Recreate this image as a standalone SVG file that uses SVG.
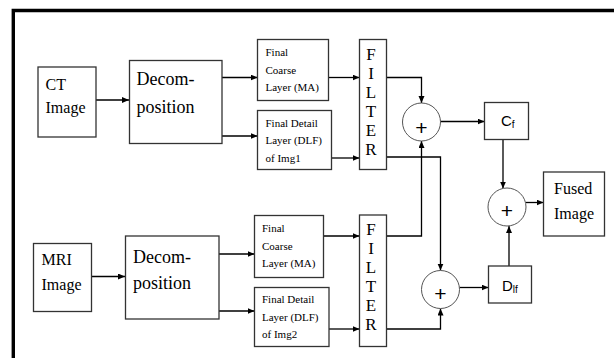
<svg xmlns="http://www.w3.org/2000/svg" width="614" height="358" viewBox="0 0 614 358">
<defs>
<marker id="arr" markerUnits="userSpaceOnUse" markerWidth="8" markerHeight="7" refX="7" refY="3" orient="auto">
<path d="M0,0 L7,3 L0,6 z" fill="#000"/>
</marker>
<style>
.box{fill:#fff;stroke:#333;stroke-width:1.3}
.sum{fill:#fff;stroke:#555;stroke-width:1}
.con{fill:none;stroke:#000;stroke-width:1.3;marker-end:url(#arr)}
.t16{font-family:"Liberation Serif",serif;font-size:16px;fill:#000}
.t18{font-family:"Liberation Serif",serif;font-size:18px;fill:#000}
.t11{font-family:"Liberation Serif",serif;font-size:11px;fill:#000}
.flt{font-family:"Liberation Serif",serif;font-size:17px;fill:#000;text-anchor:middle}
.plus{font-family:"Liberation Sans",sans-serif;font-size:21px;fill:#000;text-anchor:middle}
.sans{font-family:"Liberation Sans",sans-serif;fill:#000}
</style>
</defs>
<rect width="614" height="358" fill="#fff"/>
<path d="M13.3,360 V10.5 H616" fill="none" stroke="#000" stroke-width="3.4"/>

<g id="connectors">
<path class="con" d="M96,100 H129"/>
<path class="con" d="M222,77.5 H257.5"/>
<path class="con" d="M222,136 H257.5"/>
<path class="con" d="M328.5,77.5 H359.5"/>
<path class="con" d="M331.5,158 H359.5"/>
<path class="con" d="M386.5,77.5 H421.5 V103"/>
<path class="con" d="M386.5,157 H440.5 V270.5"/>
<path class="con" d="M386.5,236 H421.5 V141"/>
<path class="con" d="M386.5,329 H440.5 V308.5"/>
<path class="con" d="M440.5,121.5 H484.5"/>
<path class="con" d="M503,139.5 V188.5"/>
<path class="con" d="M509,266 V226"/>
<path class="con" d="M526,202.5 H543.5"/>
<path class="con" d="M459.5,287.5 H488.5"/>
<path class="con" d="M91.5,276.5 H125"/>
<path class="con" d="M219,254 H254.5"/>
<path class="con" d="M219,311 H254.5"/>
<path class="con" d="M323.5,236 H359.5"/>
<path class="con" d="M329,329 H359.5"/>
</g>

<g id="ct">
<rect class="box" x="38" y="67" width="58" height="70"/>
<text class="t16" x="45.5" y="90">CT</text>
<text class="t16" x="45.5" y="113">Image</text>
</g>
<g id="decomp1">
<rect class="box" x="129.5" y="60.5" width="92.5" height="83"/>
<text class="t18" x="136.5" y="85">Decom-</text>
<text class="t18" x="136.5" y="113">position</text>
</g>
<g id="coarse1">
<rect class="box" x="257.5" y="39.5" width="71" height="61"/>
<text class="t11" x="265.5" y="56">Final</text>
<text class="t11" x="265.5" y="73.5">Coarse</text>
<text class="t11" x="265.5" y="91">Layer (MA)</text>
</g>
<g id="detail1">
<rect class="box" x="257.5" y="110.5" width="74" height="59"/>
<text class="t11" x="265.5" y="126.5">Final Detail</text>
<text class="t11" x="265.5" y="144">Layer (DLF)</text>
<text class="t11" x="265.5" y="161.5">of Img1</text>
</g>
<g id="filter1">
<rect class="box" x="359.5" y="39.5" width="27" height="130"/>
<text class="flt" x="371" y="60">F</text>
<text class="flt" x="371" y="79">I</text>
<text class="flt" x="371" y="98">L</text>
<text class="flt" x="371" y="117">T</text>
<text class="flt" x="371" y="136">E</text>
<text class="flt" x="371" y="155">R</text>
</g>
<g id="sum1">
<circle class="sum" cx="421.5" cy="122" r="19"/>
<text class="plus" x="421.5" y="135">+</text>
</g>
<g id="cf">
<rect class="box" x="484.5" y="102.5" width="44" height="37"/>
<text class="sans" x="501" y="126" font-size="15">C<tspan font-size="10" dy="2">f</tspan></text>
</g>
<g id="sum3">
<circle class="sum" cx="507" cy="207" r="19"/>
<text class="plus" x="507" y="218">+</text>
</g>
<g id="fused">
<rect class="box" x="543.5" y="172" width="61" height="64"/>
<text class="t16" x="554" y="194">Fused</text>
<text class="t16" x="554" y="218.5">Image</text>
</g>
<g id="mri">
<rect class="box" x="33.5" y="243.5" width="58" height="68"/>
<text class="t16" x="41.5" y="265">MRI</text>
<text class="t16" x="41.5" y="290">Image</text>
</g>
<g id="decomp2">
<rect class="box" x="125.5" y="236" width="93.5" height="83"/>
<text class="t18" x="133" y="263">Decom-</text>
<text class="t18" x="133" y="288.5">position</text>
</g>
<g id="coarse2">
<rect class="box" x="254.5" y="215.5" width="69" height="62"/>
<text class="t11" x="262" y="232">Final</text>
<text class="t11" x="262" y="249.5">Coarse</text>
<text class="t11" x="262" y="267">Layer (MA)</text>
</g>
<g id="detail2">
<rect class="box" x="254.5" y="287.5" width="74.5" height="59"/>
<text class="t11" x="262" y="303">Final Detail</text>
<text class="t11" x="262" y="320.5">Layer (DLF)</text>
<text class="t11" x="262" y="338">of Img2</text>
</g>
<g id="filter2">
<rect class="box" x="359.5" y="215" width="27" height="131.5"/>
<text class="flt" x="371" y="235">F</text>
<text class="flt" x="371" y="254">I</text>
<text class="flt" x="371" y="273">L</text>
<text class="flt" x="371" y="292">T</text>
<text class="flt" x="371" y="311">E</text>
<text class="flt" x="371" y="330">R</text>
</g>
<g id="sum2">
<circle class="sum" cx="440.5" cy="289.5" r="19"/>
<text class="plus" x="440.5" y="300.5">+</text>
</g>
<g id="dlf">
<rect class="box" x="488.5" y="266" width="43" height="37"/>
<text class="sans" x="502" y="291" font-size="15">D<tspan font-size="10" dy="2">lf</tspan></text>
</g>
</svg>
